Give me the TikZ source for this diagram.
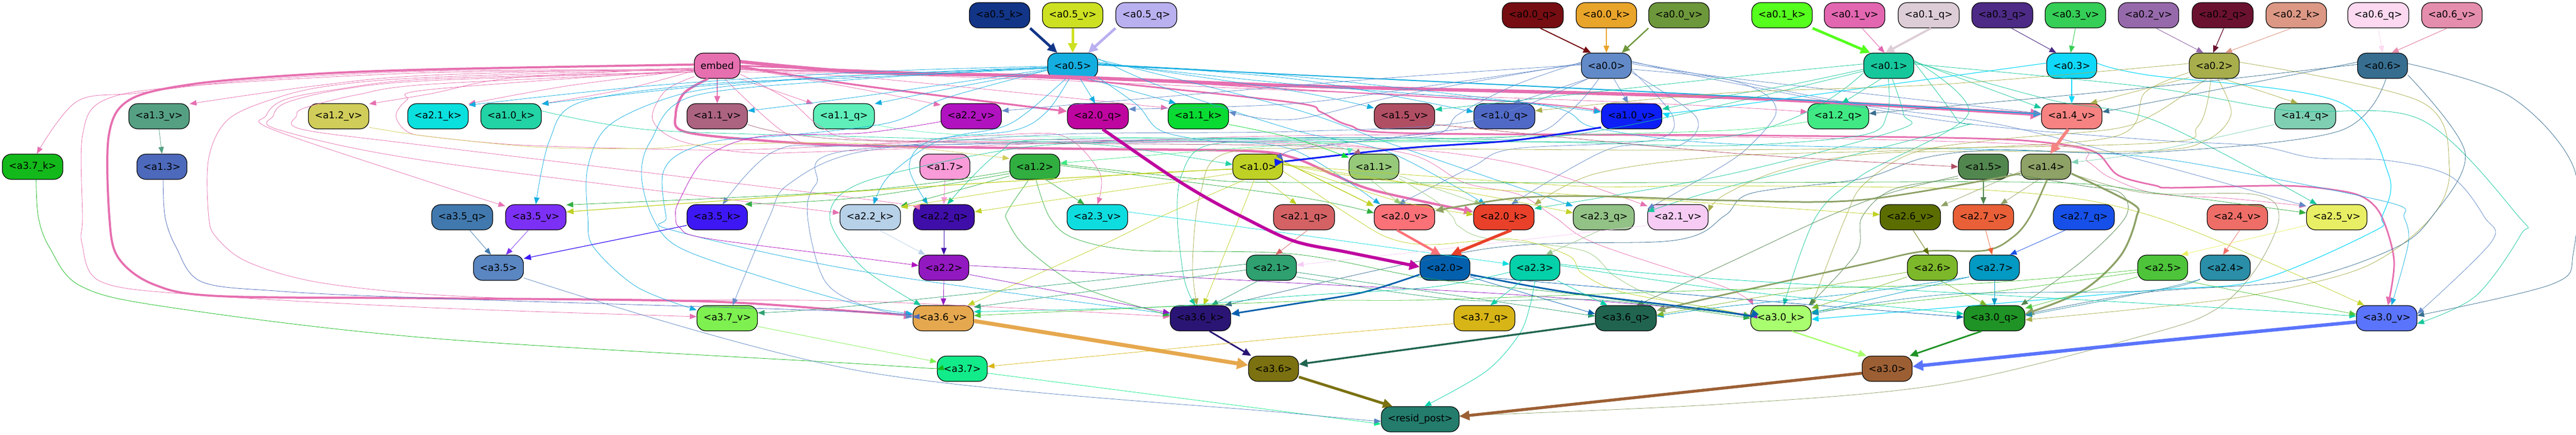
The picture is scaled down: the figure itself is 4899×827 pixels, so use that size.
\documentclass[tikz,border=0pt]{standalone}
\usepackage{fontspec}
\setmainfont{DejaVu Sans}
\usetikzlibrary{arrows.meta}
\tikzset{
  boxnode/.style={rectangle,rounded corners=17pt,draw=black,line width=1.2pt,minimum height=48pt,inner sep=0pt,text=black,font=\fontsize{18.2}{20}\selectfont},
}
\newcommand{\nd}[6]{\definecolor{#1}{HTML}{#5}\node[boxnode,fill=#1,minimum width=#4pt] (#1) at (#2,#3) {#6};}
\newcommand{\conn}[5][0.8]{%
  \pgfmathsetmacro\myal{12+1.25*#1}\pgfmathsetmacro\myaw{9+1.6*#1}%
  \draw[line width=#1pt,color=#2,-{Triangle[length=\myal pt,width=\myaw pt]}] plot[smooth,tension=0.55] coordinates {(#2.#3) #4 (#5)};}
\begin{document}
\begin{tikzpicture}[x=1pt,y=-1pt]
\useasboundingbox (0,0) rectangle (4899,827);
% row 0
\nd{a05k}{1901}{29}{115}{123587}{<a0.5\_k>}
\nd{a05v}{2040}{29}{115}{CDE122}{<a0.5\_v>}
\nd{a05q}{2180}{29}{116}{B9B0F0}{<a0.5\_q>}
\nd{a00q}{2915}{29}{116}{760D12}{<a0.0\_q>}
\nd{a00k}{3055}{29}{115}{E9A42A}{<a0.0\_k>}
\nd{a00v}{3193}{29}{115}{6D973B}{<a0.0\_v>}
\nd{a01k}{3389}{29}{115}{55FE1D}{<a0.1\_k>}
\nd{a01v}{3527}{29}{115}{E266B0}{<a0.1\_v>}
\nd{a01q}{3668}{29}{116}{DDCDD6}{<a0.1\_q>}
\nd{a03q}{3808}{29}{116}{4C2A85}{<a0.3\_q>}
\nd{a03v}{3947}{29}{115}{35CE56}{<a0.3\_v>}
\nd{a02v}{4086}{29}{115}{9669AB}{<a0.2\_v>}
\nd{a02q}{4227}{29}{116}{6B1130}{<a0.2\_q>}
\nd{a02k}{4367}{29}{115}{DC9885}{<a0.2\_k>}
\nd{a06q}{4523}{29}{116}{FCD9F0}{<a0.6\_q>}
\nd{a06v}{4663}{29}{115}{E58DAC}{<a0.6\_v>}
% row 1
\nd{embed}{1364}{125}{87}{E66FB0}{embed}
\nd{a05}{2040}{125}{95}{14ADE0}{<a0.5>}
\nd{a00}{3055}{125}{95}{628AC8}{<a0.0>}
\nd{a01}{3592}{125}{95}{16C79C}{<a0.1>}
\nd{a03}{3940}{125}{95}{10D8FB}{<a0.3>}
\nd{a02}{4211}{125}{95}{A8AE4C}{<a0.2>}
\nd{a06}{4531}{125}{95}{376E90}{<a0.6>}
% row 2
\nd{a13v}{302.5}{221}{115}{55A083}{<a1.3\_v>}
\nd{a12v}{644}{221}{115}{D0CD5A}{<a1.2\_v>}
\nd{a21k}{833}{221}{115}{0AE0DE}{<a2.1\_k>}
\nd{a10k}{972}{221}{115}{22D3A5}{<a1.0\_k>}
\nd{a11v}{1364}{221}{115}{AB6380}{<a1.1\_v>}
\nd{a11q}{1605}{221}{116}{5EEFBA}{<a1.1\_q>}
\nd{a22v}{1847}{221}{115}{B012BF}{<a2.2\_v>}
\nd{a20q}{2088}{221}{116}{BF059F}{<a2.0\_q>}
\nd{a11k}{2279}{221}{115}{09DB32}{<a1.1\_k>}
\nd{a15v}{2671}{221}{115}{B04E64}{<a1.5\_v>}
\nd{a10q}{2861}{221}{116}{5069C6}{<a1.0\_q>}
\nd{a10v}{3103}{221}{115}{0D1FF5}{<a1.0\_v>}
\nd{a12q}{3496}{221}{116}{40E984}{<a1.2\_q>}
\nd{a14v}{3940}{221}{115}{F68381}{<a1.4\_v>}
\nd{a14q}{4384}{221}{116}{7FD0B3}{<a1.4\_q>}
% row 3
\nd{a37k}{62}{317}{115}{13B91A}{<a3.7\_k>}
\nd{a13}{308}{317}{95}{4D69BB}{<a1.3>}
\nd{a17}{1797}{317}{95}{F99BD8}{<a1.7>}
\nd{a12}{1968}{317}{95}{31AE40}{<a1.2>}
\nd{a10}{2392}{317}{95}{BFD124}{<a1.0>}
\nd{a11}{2613}{317}{95}{96C97A}{<a1.1>}
\nd{a15}{3772}{317}{95}{52864F}{<a1.5>}
\nd{a14}{3891}{317}{95}{8EA166}{<a1.4>}
% row 4
\nd{a35q}{879}{413}{116}{4179AE}{<a3.5\_q>}
\nd{a35v}{1019}{413}{115}{7C30F5}{<a3.5\_v>}
\nd{a35k}{1364}{413}{115}{3D18F5}{<a3.5\_k>}
\nd{a22k}{1655}{413}{115}{B7D1E8}{<a2.2\_k>}
\nd{a22q}{1795}{413}{116}{3F0EA9}{<a2.2\_q>}
\nd{a23v}{2087}{413}{115}{0EDDE0}{<a2.3\_v>}
\nd{a21q}{2480}{413}{116}{D46265}{<a2.1\_q>}
\nd{a20v}{2671}{413}{115}{FB7178}{<a2.0\_v>}
\nd{a20k}{2860}{413}{115}{E9402A}{<a2.0\_k>}
\nd{a23q}{3050}{413}{116}{92C286}{<a2.3\_q>}
\nd{a21v}{3191}{413}{115}{F6CCF4}{<a2.1\_v>}
\nd{a26v}{3633}{413}{115}{5C6D00}{<a2.6\_v>}
\nd{a27v}{3772}{413}{115}{E96038}{<a2.7\_v>}
\nd{a27q}{3963}{413}{116}{1650E8}{<a2.7\_q>}
\nd{a24v}{4255}{413}{115}{EE6E67}{<a2.4\_v>}
\nd{a25v}{4444}{413}{115}{E9EF64}{<a2.5\_v>}
% row 5
\nd{a35}{948}{509}{95}{5A86C2}{<a3.5>}
\nd{a22}{1795}{509}{95}{9218C0}{<a2.2>}
\nd{a21}{2418}{509}{95}{2FA070}{<a2.1>}
\nd{a20}{2748}{509}{95}{0460AD}{<a2.0>}
\nd{a23}{2919}{509}{95}{04D0A9}{<a2.3>}
\nd{a26}{3675}{509}{95}{7DB82A}{<a2.6>}
\nd{a27}{3793}{509}{95}{0299C2}{<a2.7>}
\nd{a25}{4113}{509}{95}{4DC43A}{<a2.5>}
\nd{a24}{4232}{509}{95}{2A8EA8}{<a2.4>}
% row 6
\nd{a37v}{1383}{605}{115}{7EF050}{<a3.7\_v>}
\nd{a36v}{1794}{605}{115}{E6A84E}{<a3.6\_v>}
\nd{a36k}{2283}{605}{115}{2A1575}{<a3.6\_k>}
\nd{a37q}{2823}{605}{116}{D8B516}{<a3.7\_q>}
\nd{a36q}{3092}{605}{116}{20644F}{<a3.6\_q>}
\nd{a30k}{3387}{605}{115}{A8FE6E}{<a3.0\_k>}
\nd{a30q}{3793}{605}{116}{1F9325}{<a3.0\_q>}
\nd{a30v}{4539}{605}{115}{5A74FC}{<a3.0\_v>}
% row 7,8
\nd{a37}{1830}{701}{95}{12EB89}{<a3.7>}
\nd{a36}{2422}{701}{95}{7B7110}{<a3.6>}
\nd{a30}{3589}{701}{95}{9C5F34}{<a3.0>}
\nd{resid}{2701}{797}{148}{237C6C}{<resid\_post>}
% input edges
\conn[5]{a05k}{south east}{}{a05.140}
\conn[5]{a05v}{south}{}{a05.north}
\conn[5]{a05q}{south west}{}{a05.40}
\conn[2]{a00q}{300}{}{a00.140}
\conn[1.3]{a00k}{south}{}{a00.north}
\conn[2.5]{a00v}{south west}{}{a00.40}
\conn[5]{a01k}{south east}{}{a01.145}
\conn[1]{a01v}{300}{}{a01.108}
\conn[4]{a01q}{280}{}{a01.105}
\conn[1]{a03q}{305}{}{a03.140}
\conn[1]{a03v}{south}{}{a03.95}
\conn[1]{a02v}{300}{}{a02.130}
\conn[1.3]{a02q}{275}{}{a02.95}
\conn[1]{a02k}{250}{}{a02.50}
\conn[1]{a06q}{south}{}{a06.north}
\conn[1.2]{a06v}{250}{}{a06.55}
% embed
\conn[4]{embed}{177}{(820,132)(575,142)(366,160)(246,190)(207,257)(208,413)(225,490)(293,541)(418,563)(820,567)(1343,573)(1640,593)}{a36v.175}
\conn{embed}{190}{(820,135)(470,153)(261,177)(146,193)}{a37k.72}
\conn{embed}{186}{(820,143)(601,163)}{a13v.22}
\conn{embed}{186}{(976,148)(820,178)}{a12v.22}
\conn{embed}{190}{(1081,163)}{a21k.22}
\conn{embed}{192}{(1186,170)}{a10k.22}
\conn[1.5]{embed}{south}{}{a11v.north}
\conn{embed}{330}{}{a11q.158}
\conn{embed}{355}{(1640,170)}{a22v.160}
\conn[3.5]{embed}{358}{(1640,163)}{a20q.171}
\conn[3]{embed}{0}{(1990,148)(2090,155)(2460,195)(2512,213)(2565,238)(2669,253)(3280,257)(3751,263)(3908,273)(3986,290)(4028,333)(4100,353)(4132,357)(4341,353)(4446,362)(4498,377)(4530,413)(4553,496)}{a30v.85}
\conn[6.5]{embed}{10}{(1640,137)(1990,145)(2460,163)(3280,185)}{a14v.177}
\conn[4.5]{embed}{235}{(1301,177)(1285,217)(1301,250)(1448,267)(1640,277)(2058,283)(2372,287)(2460,300)(2538,333)(2617,363)}{a20k.170}
\conn{embed}{192}{(820,138)(366,163)(199,190)(157,257)(157,413)(156,463)(191,535)(366,560)(820,585)}{a37v.177}
\conn{embed}{188}{(820,147)(628,163)(523,187)(434,227)(397,300)(397,413)(413,453)(471,498)(601,536)(820,560)(1108,570)(1640,573)}{a36k.177}
\conn{embed}{195}{(820,150)(640,170)(540,190)(506,220)(518,246)(820,347)}{a35v.160}
\conn{embed}{195}{(820,153)(650,170)(545,195)(520,220)(531,247)(820,307)}{a22k.172}
\conn{embed}{195}{(820,160)(680,180)(580,205)(564,220)(575,246)(820,278)(1640,378)}{a22q.161}
\conn{embed}{190}{(820,170)(774,190)(753,220)(774,250)(820,260)(977,275)(1186,282)(1395,285)(1640,275)(1930,255)(2030,262)(2092,330)}{a23v.north}
\conn{embed}{345}{(1640,147)}{a11k.165}
\conn{embed}{350}{(1990,152)(2460,172)(2983,190)(3280,203)}{a12q.172}
\conn[2]{embed}{352}{(2090,150)(2460,170)(2900,195)}{a10v.170}
\conn{embed}{300}{(1489,250)(1578,277)(1900,265)(2400,272)(2643,283)(2774,293)(2931,323)}{a21v.160}
\conn{embed}{340}{(1500,190)(1560,240)(1640,265)(1990,270)(2460,270)(2680,293)(2784,347)(2889,370)(2957,413)(3035,463)(3280,546)}{a30k.155}
\conn{embed}{205}{(1265,173)(1241,227)(1291,267)(1421,290)(1604,287)(2460,258)(3280,260)(3908,277)(3970,307)(4012,337)(4100,368)(4237,377)}{a25v.160}
% a0.5
\conn{a05}{300}{}{a20q.102}
\conn{a05}{320}{}{a11k.150}
\conn{a05}{190}{(1797,170)}{a11q.22}
\conn{a05}{188}{(1640,183)}{a11v.10}
\conn{a05}{183}{(1640,143)(1343,163)}{a10k.22}
\conn{a05}{181}{(1640,137)(1238,163)}{a21k.20}
\conn{a05}{184}{(1640,147)(1343,160)(1102,195)(1045,267)}{a35v.north}
\conn{a05}{185}{(1640,143)(1448,157)(1291,180)(1160,237)(1118,317)(1118,413)(1129,470)(1212,546)}{a37v.165}
\conn{a05}{186}{(1640,150)(1317,183)(1238,267)(1220,333)(1241,413)(1291,470)(1448,526)(1640,581)}{a36v.172}
\conn{a05}{190}{(1797,187)(1692,233)(1500,257)(1369,267)(1291,293)(1260,333)(1267,413)(1280,438)(1640,516)}{a36k.172}
\conn{a05}{242}{(1954,213)(1901,243)(1786,267)(1692,333)}{a22k.75}
\conn{a05}{255}{(1990,213)(1928,248)(1771,267)(1729,317)}{a22q.141}
\conn{a05}{8}{(2460,173)}{a15v.165}
\conn{a05}{4}{(2460,150)}{a10q.172}
\conn{a05}{3}{(2460,145)}{a10v.172}
\conn[2]{a05}{2}{(2460,142)(3280,182)}{a14v.176}
\conn{a05}{335}{(2163,200)(2205,247)(2294,267)(2460,285)}{a20v.152}
\conn{a05}{16}{(2215,167)(2460,247)(2643,290)}{a20k.145}
\conn{a05}{14}{(2460,207)(2650,275)}{a23q.160}
\conn{a05}{6}{(2460,160)(2931,200)(3035,243)(3280,273)(3803,285)(4080,298)(4300,335)(4551,387)(4572,413)(4580,463)}{a30v.70}
% a0.0
\conn{a00}{300}{}{a10v.105}
\conn{a00}{215}{}{a10q.55}
\conn{a00}{178}{(2617,150)}{a22v.10}
\conn{a00}{176}{(2721,163)(2460,197)}{a20q.13}
\conn{a00}{174}{(2669,180)(2460,227)}{a11k.8}
\conn{a00}{172}{(2878,163)(2774,217)(2721,257)(2460,267)(1640,277)(1474,287)}{a35k.67}
\conn{a00}{240}{(2983,213)(2878,260)(2460,262)(1640,283)(1552,350)(1536,413)(1568,533)(1640,580)}{a36v.178}
\conn{a00}{350}{(3182,223)(3140,267)(2878,283)(2800,317)}{a20v.115}
\conn{a00}{345}{(3226,223)(3192,277)(3061,283)}{a20k.60}
\conn{a00}{5}{(3280,147)}{a14v.175}
\conn{a00}{215}{(2800,230)(2460,250)(2000,256)(1640,288)(1500,350)(1463,413)}{a37v.67}
\conn{a00}{352}{(3280,150)(3358,180)(3377,217)(3332,273)(3280,313)}{a21v.165}
\conn{a00}{8}{(3280,150)(3541,200)(3803,237)(4100,312)}{a25v.160}
\conn{a00}{10}{(3280,155)(3700,230)(4080,265)(4289,277)(4400,300)(4540,305)(4660,335)(4725,413)(4738,460)}{a30v.8}
% a0.1
\conn{a01}{240}{}{a12q.75}
\conn{a01}{10}{}{a14v.165}
\conn{a01}{188}{(3411,160)(3280,183)}{a10v.13}
\conn{a01}{176}{(3280,148)}{a15v.12}
\conn{a01}{285}{(3620,217)(3610,247)(3280,333)}{a20k.16}
\conn{a01}{268}{(3589,217)(3541,257)(3280,277)(2931,270)(2460,270)(2294,277)(2247,333)(2239,413)(2252,530)}{a36k.112}
\conn{a01}{8}{(3721,227)(3714,245)(3280,357)}{a21v.170}
\conn{a01}{12}{(3743,217)(3541,333)(3453,413)}{a30k.78}
\conn{a01}{8}{(3900,190)(4100,230)}{a25v.147}
\conn{a01}{4}{(4080,165)(4350,210)(4603,227)(4791,413)(4794,446)(4708,563)}{a30v.350}
\conn{a01}{195}{(3280,260)(2460,265)(2100,270)(1901,287)(1640,347)(1578,413)(1640,508)}{a36v.150}
\conn{a01}{192}{(3000,255)(2600,262)(2000,265)(1900,290)}{a22q.75}
% a0.3
\conn[1.2]{a03}{south}{}{a14v.north}
\conn[1.2]{a03}{174}{(3280,203)}{a10v.6}
\conn[1.2]{a03}{6}{(4080,142)(4446,193)(4543,333)(4530,413)(4514,440)(4294,533)(4080,553)}{a30k.358}
% a0.2
\conn{a02}{305}{}{a14q.120}
\conn{a02}{205}{}{a14v.35}
\conn{a02}{175}{(3698,160)(3280,177)}{a10q.10}
\conn{a02}{8}{(4603,193)(4658,317)(4624,413)(4498,507)(4289,560)(4080,586)}{a30q.357}
\conn{a02}{240}{(4100,215)(4020,245)(3803,265)(3640,290)(3545,350)(3510,413)}{a30k.22}
\conn{a02}{255}{(4180,240)(4080,273)(3280,285)(2600,283)(2336,290)(2283,367)(2268,500)}{a36k.105}
\conn{a02}{285}{(4243,217)(4195,267)(4080,287)(3600,290)(3400,320)(3280,370)}{a21v.10}
\conn{a02}{195}{(4080,175)(4020,260)(3640,285)(3280,297)(3035,330)}{a20k.22}
% a0.6
\conn{a06}{177}{(4080,167)}{a12q.5}
\conn{a06}{172}{(4080,197)}{a14v.8}
\conn{a06}{285}{(4446,250)(4080,290)(3803,285)(3660,300)(3540,340)(3332,367)(3280,410)(3184,457)(2826,473)}{a36k.28}
\conn{a06}{340}{(4688,290)(4624,413)(4551,473)(4366,533)(4080,556)}{a30q.7}
\conn{a06}{5}{(4773,183)(4894,317)(4894,480)(4854,540)}{a30v.5}
% a1 inputs
\conn{a13v}{south}{}{a13.north}
\conn{a12v}{340}{(820,260)(1029,280)(1238,282)(1343,275)(1640,273)}{a12.162}
\conn{a12q}{190}{(3280,248)(2800,262)(2460,275)(2215,293)}{a12.8}
\conn{a10k}{10}{(1238,247)(1640,260)(1901,267)(2111,277)}{a10.175}
\conn{a10q}{200}{(2643,262)(2460,285)}{a10.15}
\conn[3.2]{a10v}{200}{(2878,267)(2669,282)(2460,305)}{a10.11}
\conn{a11v}{345}{(1640,267)(2460,277)}{a11.148}
\conn{a11k}{345}{(2460,263)}{a11.160}
\conn{a11q}{345}{(1849,257)(2460,267)}{a11.155}
\conn{a14q}{195}{(4080,290)}{a14.10}
\conn{a15v}{345}{(3280,290)}{a15.west}
\conn[6]{a14v}{255}{}{a14.72}
% a1 outs
\conn[1.2]{a17}{south}{}{a22q.north}
\conn{a12}{310}{}{a23v.135}
\conn{a12}{245}{(1917,400)(1916,420)(1954,473)(2058,546)}{a36k.175}
\conn{a12}{275}{(1996,413)(2043,453)(2163,476)(2460,483)(2720,530)(3000,560)}{a30k.180}
\conn{a12}{195}{(1640,375)}{a35k.25}
\conn{a12}{190}{(1640,362)}{a35v.22}
\conn{a12}{200}{}{a22k.20}
\conn{a12}{3}{(2460,373)}{a20v.172}
\conn{a12}{6}{(2280,340)(2460,347)(3280,347)(3900,347)(4100,367)}{a25v.172}
\conn{a10}{300}{}{a21q.120}
\conn{a10}{195}{}{a22q.10}
\conn{a10}{186}{(2163,330)(2006,347)}{a22k.18}
\conn[1.3]{a10}{185}{(2000,340)(1640,363)}{a35v.10}
\conn{a10}{225}{(2205,413)(2085,471)}{a36v.28}
\conn{a10}{255}{(2357,413)}{a36k.76}
\conn[1.5]{a10}{12}{}{a20v.160}
\conn{a10}{8}{(2650,380)}{a20k.175}
\conn{a10}{6}{(2774,363)}{a23q.172}
\conn{a10}{5}{(2700,350)(3280,388)}{a26v.175}
\conn{a10}{4}{(2983,353)(3280,353)(3803,363)(4100,413)}{a30v.150}
\conn{a10}{350}{(2572,413)(2643,453)(2721,465)(2878,455)(2983,486)(3009,520)(3088,556)(3280,590)}{a30k.178}
\conn{a11}{255}{}{a20v.105}
\conn{a11}{340}{}{a20k.150}
\conn{a11}{335}{(2732,383)(2763,413)(2774,430)(2826,453)(3009,476)(3072,526)(3156,566)}{a30k.175}
\conn[1.2]{a15}{south}{}{a27v.north}
\conn{a15}{345}{(3960,353)(4033,367)(4042,413)(3960,496)}{a30q.26}
\conn{a15}{205}{(3600,360)(3541,413)(3531,480)}{a30k.25}
\conn{a15}{200}{(3594,367)(3473,413)(3280,503)}{a36q.50}
\conn[3.5]{a14}{345}{(4055,387)(4063,413)(4033,486)(3960,553)}{a30q.8}
\conn[3]{a14}{275}{(3860,413)(3829,450)(3777,476)(3657,478)(3541,503)(3280,560)}{a36q.14}
\conn[3]{a14}{195}{(3541,380)(3280,381)(3035,373)(2878,377)}{a20v.12}
\conn{a14}{240}{}{a27v.37}
\conn{a14}{190}{}{a26v.20}
\conn{a14}{345}{(4080,367)(4289,370)(4334,413)(4289,513)(4211,590)(4080,637)(3698,730)(3280,768)}{resid.5}
% row 4 to 5
\conn{a35q}{300}{}{a35.120}
\conn{a35v}{240}{}{a35.60}
\conn[1.3]{a35k}{195}{}{a35.20}
\conn{a22k}{305}{}{a22.145}
\conn{a22q}{south}{}{a22.north}
\conn{a22v}{190}{(1640,253)(1442,260)(1343,300)(1291,383)(1285,413)(1293,433)(1343,453)(1640,491)}{a22.175}
\conn{a23v}{10}{(2460,445)}{a23.172}
\conn{a21q}{285}{}{a21.72}
\conn{a21v}{195}{(2774,470)}{a21.6}
\conn[4.5]{a20v}{240}{}{a20.108}
\conn[5.5]{a20k}{300}{}{a20.65}
\conn[6]{a20q}{290}{(2215,327)(2289,373)(2364,413)(2460,458)(2565,480)}{a20.178}
\conn{a23q}{255}{}{a23.50}
\conn{a26v}{282}{}{a26.105}
\conn{a27v}{280}{}{a27.100}
\conn{a27q}{215}{}{a27.40}
\conn{a24v}{280}{}{a24.100}
\conn{a25v}{195}{}{a25.35}
% row 5 outs
\conn{a22}{south}{}{a36v.north}
\conn{a22}{345}{}{a36k.170}
\conn{a22}{5}{(2460,538)(2878,560)(3280,593)}{a30k.177}
\conn{a21}{172}{(1640,580)}{a37v.10}
\conn{a21}{185}{}{a36v.20}
\conn{a21}{225}{}{a36k.50}
\conn{a21}{350}{}{a36q.176}
\conn{a21}{340}{(2774,570)(3035,570)}{a30k.176}
\conn[3]{a20}{195}{(2591,556)(2460,578)}{a36k.8}
\conn[3]{a20}{345}{(2983,556)(3280,593)}{a30k.180}
\conn{a20}{340}{}{a36q.172}
\conn{a20}{342}{(3280,566)}{a30q.178}
\conn{a23}{225}{}{a37q.65}
\conn{a23}{330}{}{a36q.145}
\conn{a23}{270}{(2910,580)(2889,636)(2826,706)}{resid.72}
\conn{a23}{5}{(3280,550)}{a30q.172}
\conn{a23}{8}{(3280,531)(4100,578)}{a30v.176}
\conn{a23}{190}{(2721,546)(2460,563)(2215,583)}{a36v.12}
\conn{a25}{330}{}{a30v.173}
\conn{a25}{200}{}{a30q.18}
\conn{a25}{190}{(3751,560)}{a30k.12}
\conn{a25}{185}{(3740,540)(3280,551)(2721,570)(2460,573)}{a36v.5}
\conn{a24}{205}{(4080,556)}{a30q.5}
\conn{a24}{204}{(4080,553)(3700,560)}{a30k.8}
\conn{a27}{south}{}{a30q.north}
\conn{a27}{200}{}{a30k.10}
\conn{a27}{200}{(3541,556)(3280,583)}{a36q.4}
\conn{a26}{300}{}{a30q.120}
\conn{a26}{200}{}{a30k.18}
\conn{a26}{190}{(3280,576)}{a36q.6}
% row 6, 7 outs
\conn[7.5]{a36v}{355}{}{a36.172}
\conn[3]{a36k}{305}{}{a36.150}
\conn[3.5]{a36q}{190}{}{a36.10}
\conn{a37v}{345}{(1640,660)}{a37.165}
\conn{a37q}{190}{(2460,641)}{a37.5}
\conn{a37k}{285}{(73,413)(94,470)(152,543)(314,583)(820,643)(1640,692)}{a37.182}
\conn{a13}{275}{(314,413)(335,470)(382,535)(523,553)(820,567)(1640,593)}{a36v.178}
\conn{a37}{350}{}{resid.187}
\conn{a35}{338}{(1640,706)(2460,786)}{resid.183}
\conn[5]{a36}{342}{}{resid.155}
\conn[5.5]{a30}{190}{}{resid.4}
\conn[2.5]{a30k}{310}{}{a30.148}
\conn[3]{a30q}{225}{}{a30.30}
\conn[6.5]{a30v}{187}{(4080,651)}{a30.5}
\end{tikzpicture}
\end{document}
